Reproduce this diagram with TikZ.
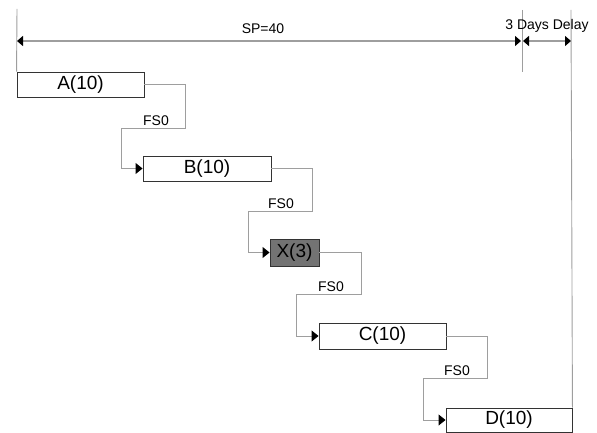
\documentclass[tikz,border=0pt]{standalone}
\usepackage{fontspec}
\setmainfont{Liberation Sans}
\usetikzlibrary{arrows.meta}
\definecolor{linegray}{gray}{0.62}
\definecolor{boxgray}{gray}{0.45}
\definecolor{edgegray}{gray}{0.2}
\tikzset{
  task/.style={draw=edgegray, line width=0.9pt, fill=white, inner sep=0pt, font=\fontsize{19}{21}\selectfont},
  conn/.style={draw=linegray, line width=0.9pt, -{Triangle[length=7pt,width=11pt,color=black]}},
  lab/.style={font=\fontsize{14}{16}\selectfont, inner sep=1pt, anchor=south},
  dim/.style={draw=linegray, line width=1.3pt},
  tick/.style={draw=linegray, line width=0.9pt}
}
\begin{document}
\begin{tikzpicture}[x=1pt,y=-1pt]
\useasboundingbox (0,0) rectangle (597,433);
% boxes
\node[task, minimum width=127pt, minimum height=25pt] (A) at (80.5,84.5) {A(10)};
\node[task, minimum width=128pt, minimum height=25pt] (B) at (207,168.5) {B(10)};
\node[task, fill=boxgray, minimum width=49pt, minimum height=27pt] (X) at (294.5,252.5) {X(3)};
\node[task, minimum width=127pt, minimum height=26pt] (C) at (382.5,336) {C(10)};
\node[task, minimum width=126pt, minimum height=24pt] (D) at (509,420) {D(10)};
% connectors
\draw[conn] (A.east) -| (185,128) -| ([xshift=-21pt]B.west) -- (B.west);
\draw[conn] (B.east) -| (312,211) -| ([xshift=-21pt]X.west) -- (X.west);
\draw[conn] (X.east) -| (361,294) -| ([xshift=-22pt]C.west) -- (C.west);
\draw[conn] (C.east) -| (487,378) -| ([xshift=-22pt]D.west) -- (D.west);
% labels
\node[lab] (fa) at (156,127) {FS0};
\node[lab] (fb) at (281,210) {FS0};
\node[lab] (fc) at (331,293) {FS0};
\node[lab] (fd) at (457,377) {FS0};
% dimension lines
\coordinate (topL) at (17,9);
\coordinate (topM) at (522,10);
\coordinate (botM) at (522,72);
\coordinate (topR) at (571,10);
\coordinate (spL) at (17,41);
\coordinate (spR) at (521,41);
\coordinate (dL) at (523,41);
\coordinate (dR) at (571,41);
\draw[tick] (topL) -- (A.north west);
\draw[tick] (topM) -- (botM);
\draw[tick] (topR) -- (D.north east);
\draw[dim, {Triangle[length=6pt,width=10pt,color=black]}-{Triangle[length=6pt,width=10pt,color=black]}] (spL) -- (spR);
\draw[dim, {Triangle[length=6pt,width=10pt,color=black]}-{Triangle[length=6pt,width=10pt,color=black]}] (dL) -- (dR);
\node[font=\fontsize{14}{16}\selectfont, inner sep=0pt] (sp) at (263,29) {SP=40};
\node[font=\fontsize{14}{16}\selectfont, inner sep=0pt] (delay) at (547,26) {3 Days Delay};
\end{tikzpicture}
\end{document}
